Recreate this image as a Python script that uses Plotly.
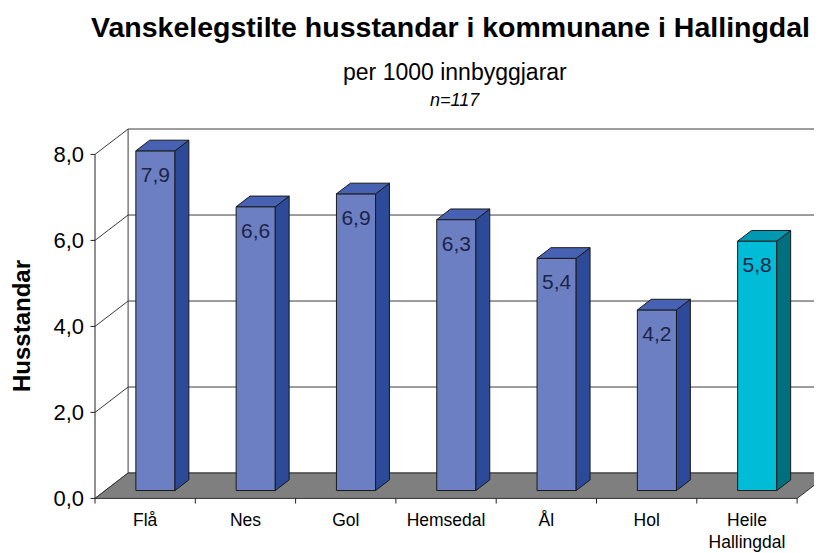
import plotly.graph_objects as go

# ---- data ----
categories = ["Flå", "Nes", "Gol", "Hemsedal", "Ål", "Hol", "Heile<br>Hallingdal"]
values = [7.9, 6.6, 6.9, 6.3, 5.4, 4.2, 5.8]
value_labels = ["7,9", "6,6", "6,9", "6,3", "5,4", "4,2", "5,8"]
y_ticks = [0, 2, 4, 6, 8]
y_tick_labels = ["0,0", "2,0", "4,0", "6,0", "8,0"]
highlight = [False, False, False, False, False, False, True]

# ---- layout constants (page has an 8px body margin) ----
OFF = 8
BOTTOM = 507   # page y of plot-area bottom
ML, MT, MB = 85 - OFF, 120 - OFF, (553 - BOTTOM) + OFF
PW = 822 - ML
PH = 553 - MT - MB

# ---- 3D geometry (in data units) ----
DX, DY = 0.33, 0.59        # full depth offset of back wall
F0, F1 = 0.31, 0.73        # depth fraction of bar front / back
W = 0.39                   # bar width (category units)
n = len(categories)
x_lo = -0.5 - 0.0997
x_hi = x_lo + PW / 100.3
y_hi = 8.8
y_lo = y_hi - PH / 43.0

BLUE = dict(front="#6d7fc3", side="#2c4a98", top="#4762b2")
CYAN = dict(front="#00bcd6", side="#00707f", top="#0099b3")
EDGE = "#1a1a1a"
FONT = "Arial, Liberation Sans, sans-serif"

fig = go.Figure()

def poly(xs, ys, fill, line_color=EDGE, width=1):
    fig.add_trace(go.Scatter(x=xs + [xs[0]], y=ys + [ys[0]], mode="lines",
                             fill="toself", fillcolor=fill,
                             line=dict(color=line_color, width=width),
                             hoverinfo="skip", showlegend=False))

def line(xs, ys, color="#333333", width=1):
    fig.add_trace(go.Scatter(x=xs, y=ys, mode="lines",
                             line=dict(color=color, width=width),
                             hoverinfo="skip", showlegend=False))

left = -0.5
right = n - 0.5
# back wall gridlines, left wall diagonals
gx, gy = [], []
for v in y_ticks:
    gx += [left, left + DX, right + DX, None]
    gy += [v, v + DY, v + DY, None]
line(gx, gy, "#3a3a3a", 1)
# back wall left edge
line([left + DX, left + DX], [DY, max(y_ticks) + DY], "#3a3a3a", 1)
# front y axis line
line([left, left], [0, max(y_ticks)], "#222222", 1)

# floor
poly([left, right, right + DX, left + DX], [0, 0, DY, DY], "#7f7f7f", "#333333", 1)

# x tick marks (category boundaries) and y tick marks
tx, ty = [], []
for k in range(n + 1):
    tx += [left + k, left + k, None]
    ty += [0, -0.12, None]
for v in y_ticks:
    tx += [left - 0.045, left, None]
    ty += [v, v, None]
line(tx, ty, "#222222", 1)

# bars
ddx, ddy = (F1 - F0) * DX, (F1 - F0) * DY
for i, (v, hl) in enumerate(zip(values, highlight)):
    c = CYAN if hl else BLUE
    x0 = i - W / 2 + F0 * DX
    x1 = x0 + W
    yb = F0 * DY
    yt = v + F0 * DY
    poly([x0, x1, x1, x0], [yb, yb, yt, yt], c["front"])
    poly([x1, x1 + ddx, x1 + ddx, x1], [yb, yb + ddy, yt + ddy, yt], c["side"])
    poly([x0, x1, x1 + ddx, x0 + ddx], [yt, yt, yt + ddy, yt + ddy], c["top"])

# value labels
fig.add_trace(go.Scatter(
    x=[i + F0 * DX for i in range(n)],
    y=[v + F0 * DY - 0.6 for v in values],
    mode="text", text=value_labels,
    textfont=dict(family=FONT, size=21, color="#1c2448"),
    hoverinfo="skip", showlegend=False))

def px(xp):  # page x -> paper x
    return (xp - 85) / PW

def py(yp):  # page y -> paper y
    return (BOTTOM - yp) / PH

fig.update_layout(
    width=822, height=553,
    margin=dict(l=ML, r=0, t=MT, b=MB, autoexpand=False),
    paper_bgcolor="white", plot_bgcolor="white",
    font=dict(family=FONT, color="black"),
    xaxis=dict(range=[x_lo, x_hi], tickvals=list(range(n)), ticktext=categories,
               showgrid=False, zeroline=False, showline=False, ticks="",
               automargin=False,
               tickfont=dict(size=17.5, family=FONT, color="black")),
    yaxis=dict(range=[y_lo, y_hi], tickvals=y_ticks, ticktext=y_tick_labels,
               showgrid=False, zeroline=False, showline=False, ticks="",
               automargin=False,
               tickfont=dict(size=22, family=FONT, color="black")),
    annotations=[
        dict(text="<b>Vanskelegstilte husstandar i kommunane i Hallingdal</b>",
             xref="paper", yref="paper", x=px(450), y=py(27),
             xanchor="center", yanchor="middle", showarrow=False,
             font=dict(size=28.5, family=FONT, color="black")),
        dict(text="per 1000 innbyggjarar",
             xref="paper", yref="paper", x=px(455), y=py(72),
             xanchor="center", yanchor="middle", showarrow=False,
             font=dict(size=23, family=FONT, color="black")),
        dict(text="<i>n=117</i>",
             xref="paper", yref="paper", x=px(455), y=py(100),
             xanchor="center", yanchor="middle", showarrow=False,
             font=dict(size=18, family=FONT, color="black")),
        dict(text="<b>Husstandar</b>", textangle=-90,
             xref="paper", yref="paper", x=px(21), y=py(326),
             xanchor="center", yanchor="middle", showarrow=False,
             font=dict(size=24, family=FONT, color="black")),
    ],
)

fig.write_html("out.html")
